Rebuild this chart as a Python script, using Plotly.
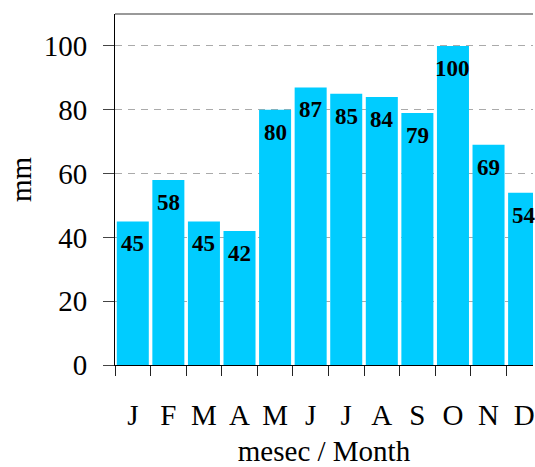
import plotly.graph_objects as go

# Monthly precipitation (mm)
months = ["J", "F", "M", "A", "M", "J", "J", "A", "S", "O", "N", "D"]
precip = [45, 58, 45, 42, 80, 87, 85, 84, 79, 100, 69, 54]

x_pos = list(range(len(months)))
bar_color = "#00CCFF"
serif = "Liberation Serif, Times New Roman, serif"

fig = go.Figure()
fig.add_trace(go.Bar(
    x=x_pos, y=precip,
    marker=dict(color=bar_color, line=dict(width=0)),
    hoverinfo="skip",
))

# Value labels just inside the top of each bar
for xi, v in zip(x_pos, precip):
    fig.add_annotation(
        x=xi, y=v, text=f"<b>{v}</b>", showarrow=False,
        yanchor="top", yshift=-8,
        font=dict(family=serif, size=23, color="#000000"),
    )

# Y-axis title
fig.add_annotation(
    xref="paper", yref="paper", x=0, y=0.53,
    xanchor="center", yanchor="middle", xshift=-94,
    text="mm", textangle=-90, showarrow=False,
    font=dict(family=serif, size=29, color="#000000"),
)

# Gray frame line along the top of the plot area
fig.add_shape(type="line", xref="paper", yref="paper",
              x0=0, x1=1, y0=1, y1=1,
              line=dict(color="#999999", width=2))

fig.update_layout(
    width=535, height=467,
    margin=dict(l=115, r=0, t=14, b=101),
    paper_bgcolor="white", plot_bgcolor="white",
    bargap=0.1,
    showlegend=False,
    font=dict(family=serif, size=29, color="#000000"),
)

fig.update_xaxes(
    range=[-0.5, 11.25],
    tickmode="array", tickvals=x_pos, ticktext=months,
    ticks="", ticklabelstandoff=24, ticklabeloverflow="allow",
    minor=dict(tickmode="array",
               tickvals=[i - 0.5 for i in range(len(months) + 1)],
               ticks="outside", ticklen=10, tickcolor="#222222", tickwidth=1),
    showline=True, linecolor="#000000", linewidth=1,
    showgrid=False, zeroline=False,
    tickfont=dict(family=serif, size=29),
    title=dict(text="mesec / Month", font=dict(family=serif, size=29), standoff=16),
)

fig.update_yaxes(
    range=[0, 110],
    tickmode="array", tickvals=[0, 20, 40, 60, 80, 100],
    ticks="outside", ticklen=11, tickcolor="#444444", tickwidth=1,
    ticklabelstandoff=10,
    showline=True, linecolor="#000000", linewidth=1,
    showgrid=True, gridcolor="#aaaaaa", gridwidth=1, griddash="7px,6px",
    zeroline=False,
    tickfont=dict(family=serif, size=29),
)

fig.write_html("out.html", config={"displayModeBar": False})
